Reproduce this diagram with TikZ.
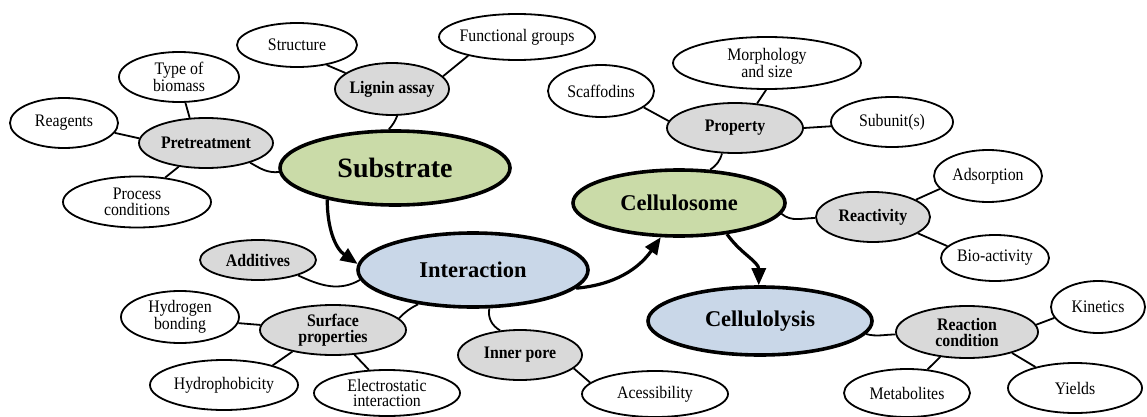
\documentclass[tikz,border=0pt]{standalone}
\usepackage{fontspec}
\setmainfont{Liberation Serif}
\newfontfamily\nfont{Liberation Serif}[FakeStretch=0.9]
\usetikzlibrary{shapes.geometric,arrows.meta}
\definecolor{cgreen}{HTML}{CADBA8}
\definecolor{cblue}{HTML}{C9D7E8}
\definecolor{cgray}{HTML}{D9D9D9}
\tikzset{
  base/.style={ellipse, draw, inner sep=0pt, line width=1.8pt},
  leaf/.style={base, fill=white},
  sub/.style={base, fill=cgray},
  mainG/.style={base, fill=cgreen, line width=3.6pt},
  mainB/.style={base, fill=cblue, line width=3.6pt},
  ltxt/.style={align=center, inner sep=0pt, font=\nfont\fontsize{17.6}{15.5}\selectfont},
  stxt/.style={align=center, inner sep=0pt, font=\nfont\fontsize{17.6}{16}\selectfont\bfseries},
  mtxt/.style={inner sep=0pt, font=\fontsize{22.5}{24}\selectfont\bfseries},
  conn/.style={line width=1.8pt},
  arr/.style={line width=3.2pt, -{Triangle[length=17pt,width=14pt]}},
}
\newcommand{\el}[7]{\node[#1, minimum width=#5pt, minimum height=#6pt, label={[#7]center:#4}] (#2) at (#3) {};}
\begin{document}
\begin{tikzpicture}[x=1pt,y=-1pt]
\useasboundingbox (0,0) rectangle (1147,417);
% leaves and subnodes
\el{leaf}{reag}{64,123}{Reagents}{108}{50}{ltxt}
\el{leaf}{type}{179,77}{Type of\\biomass}{120}{50}{ltxt}
\el{sub}{pre}{206,143}{Pretreatment}{134}{50}{stxt}
\el{leaf}{proc}{137,202}{Process\\conditions}{148}{51}{ltxt}
\el{leaf}{struct}{297,45}{Structure}{120}{44}{ltxt}
\el{leaf}{func}{517,37}{Functional groups}{156}{46}{ltxt}
\el{sub}{lig}{392,89}{Lignin assay}{114}{52}{stxt}
\el{leaf}{scaf}{601,91}{Scaffodins}{106}{52}{ltxt}
\el{leaf}{morph}{767,63}{Morphology\\and size}{188}{52}{ltxt}
\el{sub}{prop}{735,128}{Property}{136}{50}{stxt}
\el{leaf}{subu}{892,122}{Subunit(s)}{122}{50}{ltxt}
\el{leaf}{ads}{988,176}{Adsorption}{108}{52}{ltxt}
\el{sub}{react}{873,217}{Reactivity}{114}{50}{stxt}
\el{leaf}{bio}{995,258}{Bio-activity}{108}{46}{ltxt}
\el{sub}{add}{258,260}{Additives}{116}{40}{stxt}
\el{leaf}{hyd}{180,317}{Hydrogen\\bonding}{118}{52}{ltxt}
\el{sub}{surf}{333,330}{Surface\\properties}{146}{50}{stxt}
\el{leaf}{phob}{224,385}{Hydrophobicity}{148}{50}{ltxt}
\el{leaf}{elec}{387,393}{Electrostatic\\interaction}{146}{46}{ltxt}
\el{sub}{inner}{520,355}{Inner pore}{124}{50}{stxt}
\el{leaf}{acc}{655,394}{Acessibility}{146}{46}{ltxt}
\el{sub}{rc}{967,332}{Reaction\\condition}{142}{52}{stxt}
\el{leaf}{kin}{1098,307}{Kinetics}{94}{52}{ltxt}
\el{leaf}{meta}{907,393}{Metabolites}{126}{48}{ltxt}
\el{leaf}{yld}{1075,388}{Yields}{134}{50}{ltxt}
% main nodes
\node[mainG, minimum width=230pt, minimum height=74pt, label={[mtxt, font=\fontsize{28}{30}\selectfont\bfseries]center:Substrate}] (subs) at (395,168) {};
\node[mainG, minimum width=212pt, minimum height=66pt, label={[mtxt]center:Cellulosome}] (cello) at (679,203) {};
\node[mainB, minimum width=230pt, minimum height=74pt, label={[mtxt]center:Interaction}] (inter) at (473,270) {};
\node[mainB, minimum width=224pt, minimum height=68pt, label={[mtxt]center:Cellulolysis}] (lysis) at (760,321) {};
% connectors
\draw[conn] (pre.176) -- (reag.349);
\draw[conn] (pre.123) -- (type.284);
\draw[conn] (pre.221) -- (proc.41);
\draw[conn] (pre.336) to[out=-30,in=185] (subs.182);
\draw[conn] (lig.161) -- (struct.326);
\draw[conn] (lig.14) -- (func.201);
\draw[conn] (lig.281) to[bend left=10] (subs.99);
\draw[conn] (prop.48) -- (morph.268);
\draw[conn] (prop.174) -- (scaf.339);
\draw[conn] (prop.0) -- (subu.184);
\draw[conn] (prop.243) to[bend left=20] (cello.47);
\draw[conn] (cello.354) to[out=-40,in=180] (react.181);
\draw[conn] (react.22) -- (ads.195);
\draw[conn] (react.340) -- (bio.166);
\draw[conn] (lysis.353) to[out=-15,in=180] (rc.182);
\draw[conn] (rc.6) -- (kin.194);
\draw[conn] (rc.223) -- (meta.49);
\draw[conn] (rc.335) -- (yld.152);
\draw[conn] (add.339) to[out=-25,in=210] (inter.185);
\draw[conn] (inter.212) to[bend right=10] (surf.10);
\draw[conn] (inter.293) to[out=-100,in=150] (inner.129);
\draw[conn] (inner.346) -- (acc.170);
\draw[conn] (surf.176) -- (hyd.354);
\draw[conn] (surf.208) -- (phob.22);
\draw[conn] (surf.311) -- (elec.128);
% arrows
\draw[arr] (subs.205) to[out=-90,in=145] (inter.177);
\draw[arr] (inter.350) to[out=5,in=235] (cello.242);
\draw[arr] (cello.327) to[out=-55,in=90] (lysis.92);
\end{tikzpicture}
\end{document}
